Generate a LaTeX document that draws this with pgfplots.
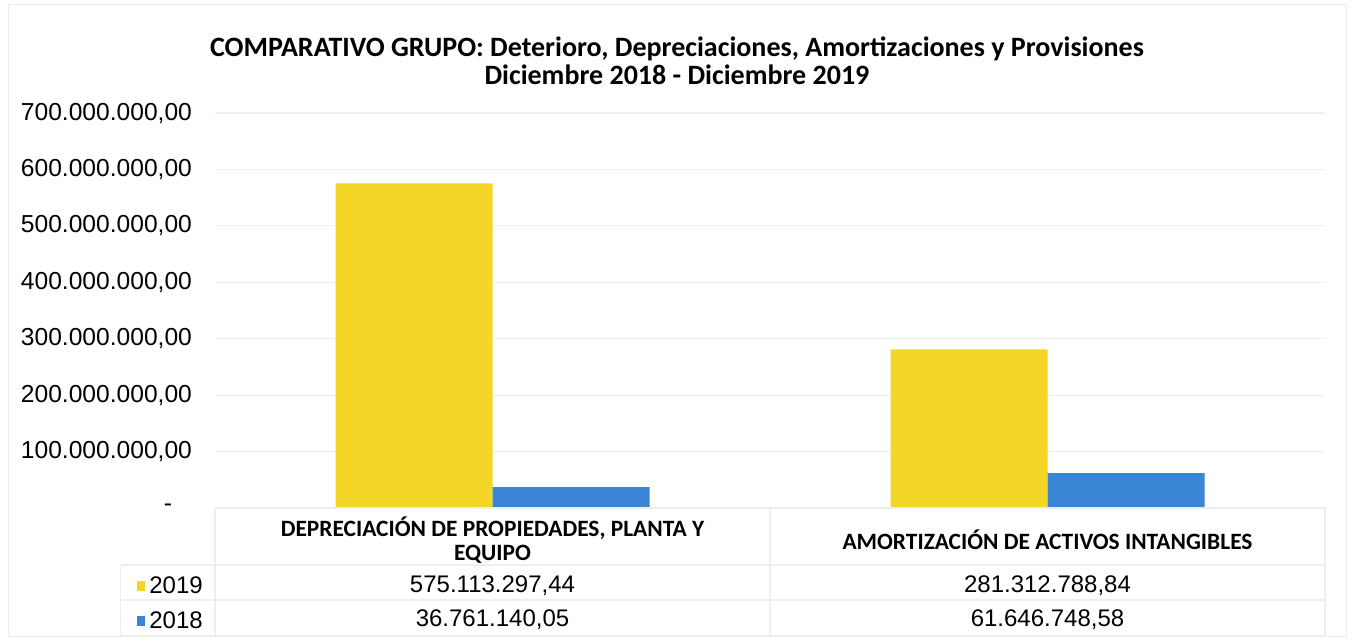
\documentclass[border=0pt]{standalone}
\usepackage{pgfplots}
\pgfplotsset{compat=1.18}
\usepackage{fontspec}
\setmainfont{Liberation Sans}
\newfontfamily\carlito{Carlito}
\definecolor{amarillo}{RGB}{243,214,38}
\definecolor{azul}{RGB}{58,134,212}
\definecolor{lineas}{RGB}{238,238,238}
\begin{document}
\begin{tikzpicture}
\useasboundingbox (0,0) rectangle (677pt,320pt);
\draw[gray!15] (4pt,2pt) rectangle (673pt,318pt);
\node[font=\carlito\bfseries\fontsize{14}{14}\selectfont, align=center] at (338.5pt,289.5pt)
  {COMPARATIVO GRUPO: Deterioro, Depreciaciones, Amortizaciones y Provisiones\\Diciembre 2018 - Diciembre 2019};
\begin{axis}[
    at={(107.5pt,66pt)}, anchor=south west,
    scale only axis, width=555pt, height=197.5pt,
    ybar=0pt, bar width=78.5pt,
    xmin=-0.5, xmax=1.5,
    ymin=0, ymax=700000000,
    scaled y ticks=false,
    xtick={0,1},
    xticklabels={{DEPRECIACIÓN DE PROPIEDADES, PLANTA Y\\EQUIPO},{AMORTIZACIÓN DE ACTIVOS INTANGIBLES}},
    xticklabel style={font=\carlito\bfseries\fontsize{11.7}{11.8}\selectfont, align=center, anchor=center, yshift=-16pt},
    major tick length=0pt,
    ytick={0,100000000,200000000,300000000,400000000,500000000,600000000,700000000},
    yticklabels={{\makebox[14pt][l]{-}},{100.000.000,00},{200.000.000,00},{300.000.000,00},{400.000.000,00},{500.000.000,00},{600.000.000,00},{700.000.000,00}},
    yticklabel style={font=\fontsize{12.3}{12}\selectfont, xshift=-8pt},
    ymajorgrids, grid style={lineas, line width=0.6pt},
    axis line style={draw=none},
    axis x line*=bottom,
    clip=false,
    legend style={at={(rel axis cs:-0.071,-0.162)}, anchor=north west, draw=none, fill=none,
      font=\fontsize{12}{12}\selectfont, row sep=4pt, inner sep=0pt, cells={anchor=west}},
    legend image code/.code={\fill[#1] (0pt,-2.2pt) rectangle (4.4pt,2.8pt);},
]
\addplot[fill=amarillo, draw=none] coordinates {(0,575113297.44) (1,281312788.84)};
\addplot[fill=azul, draw=none] coordinates {(0,36761140.05) (1,61646748.58)};
\legend{2019,2018}
% table rules
\draw[lineas, line width=0.6pt] (rel axis cs:0,0) -- (rel axis cs:1,0);
\draw[lineas, line width=0.6pt] (rel axis cs:-0.085,0) ++(0pt,-28.5pt) -- ++(602pt,0pt);
\draw[lineas, line width=0.6pt] (rel axis cs:-0.085,0) ++(0pt,-46pt) -- ++(602pt,0pt);
\draw[lineas, line width=0.6pt] (rel axis cs:-0.085,0) ++(0pt,-64pt) -- ++(602pt,0pt);
\draw[lineas, line width=0.6pt] (rel axis cs:0,0) -- ++(0pt,-64pt);
\draw[lineas, line width=0.6pt] (rel axis cs:0.5,0) -- ++(0pt,-64pt);
\draw[lineas, line width=0.6pt] (rel axis cs:1,0) -- ++(0pt,-64pt);
\draw[lineas, line width=0.6pt] (rel axis cs:-0.085,0) ++(0pt,-28.5pt) -- ++(0pt,-35.5pt);
% values
\node[font=\fontsize{12}{12}\selectfont] at (axis cs:0,0) [yshift=-39pt] {575.113.297,44};
\node[font=\fontsize{12}{12}\selectfont] at (axis cs:0,0) [yshift=-56pt] {36.761.140,05};
\node[font=\fontsize{12}{12}\selectfont] at (axis cs:1,0) [yshift=-39pt] {281.312.788,84};
\node[font=\fontsize{12}{12}\selectfont] at (axis cs:1,0) [yshift=-56pt] {61.646.748,58};
\end{axis}
\end{tikzpicture}
\end{document}
